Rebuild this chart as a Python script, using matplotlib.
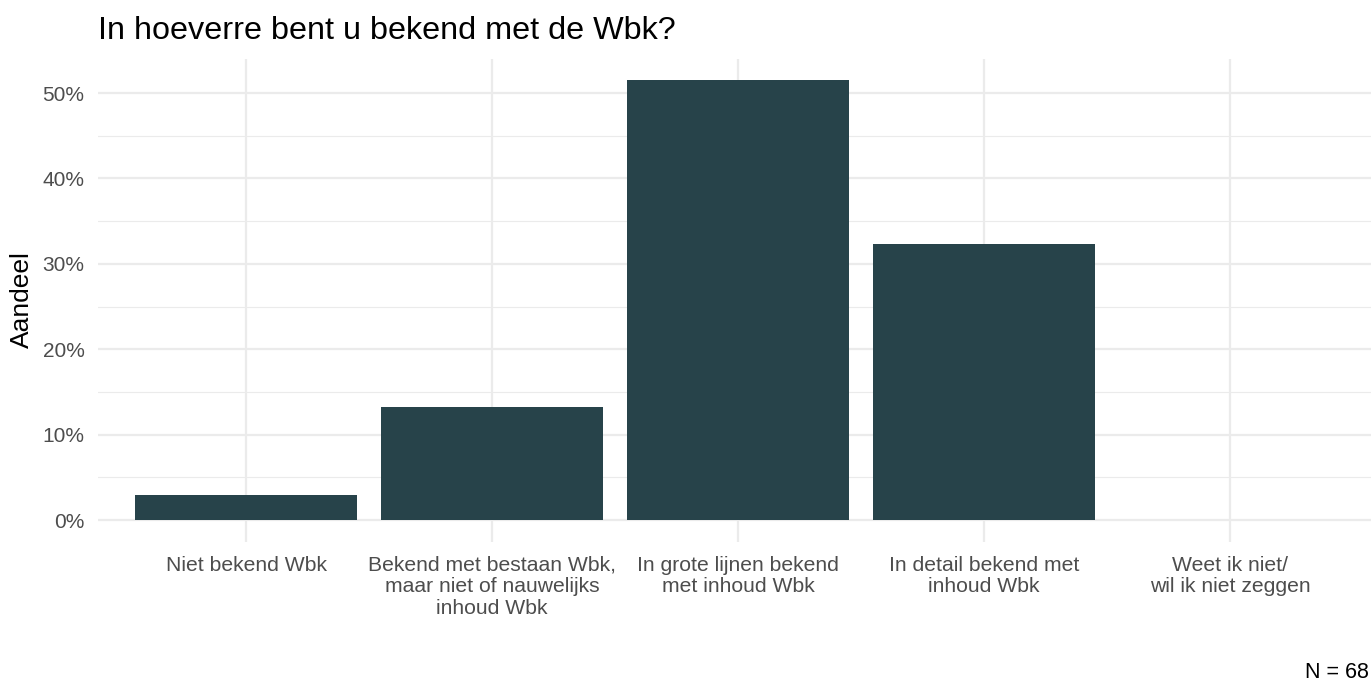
import matplotlib
matplotlib.use("Agg")
import matplotlib.pyplot as plt
from matplotlib.ticker import FixedLocator, PercentFormatter

plt.rcParams['font.family'] = ['Liberation Sans', 'DejaVu Sans']

categories = [
    "Niet bekend Wbk",
    "Bekend met bestaan Wbk,\nmaar niet of nauwelijks\ninhoud Wbk",
    "In grote lijnen bekend\nmet inhoud Wbk",
    "In detail bekend met\ninhoud Wbk",
    "Weet ik niet/\nwil ik niet zeggen",
]
counts = [2, 9, 35, 22, 0]
n_total = 68
shares = [c / n_total for c in counts]

title = "In hoeverre bent u bekend met de Wbk?"
ylabel = "Aandeel"
caption = f"N = {n_total}"
major_ticks = [0, 0.1, 0.2, 0.3, 0.4, 0.5]
minor_ticks = [0.05, 0.15, 0.25, 0.35, 0.45]

W, H = 1371, 681
fig = plt.figure(figsize=(W / 100, H / 100), dpi=100)
ax_left, ax_right = 98.4, 1377.6
ax_top, ax_bottom = 58.5, 542.0
ax = fig.add_axes([ax_left / W, 1 - ax_bottom / H,
                   (ax_right - ax_left) / W, (ax_bottom - ax_top) / H])

x = list(range(1, len(categories) + 1))
ax.set_axisbelow(True)
grid_col = "#EBEBEB"
for t in major_ticks:
    ax.axhline(t, color=grid_col, lw=1.6, zorder=0)
for t in minor_ticks:
    ax.axhline(t, color=grid_col, lw=0.8, zorder=0)
for xi in x:
    ax.axvline(xi, color=grid_col, lw=1.6, zorder=0)

ax.bar(x, shares, width=0.9, color="#27434A", zorder=2)

ax.set_xlim(0.4, 5.6)
top = max(shares)
ax.set_ylim(-0.05 * top, top * 1.05)
ax.yaxis.set_major_locator(FixedLocator(major_ticks))
ax.yaxis.set_major_formatter(PercentFormatter(1.0, decimals=0))
ax.set_xticks(x)
ax.set_xticklabels(categories, fontsize=15.2, color="#4D4D4D", linespacing=1.17)
ax.tick_params(axis='y', labelsize=15, labelcolor="#4D4D4D", length=0, pad=10)
ax.tick_params(axis='x', length=0, pad=10)
for s in ax.spines.values():
    s.set_visible(False)

fig.text(22 / W, 1 - 300 / H, ylabel, fontsize=19, color="black",
         rotation=90, va="center", ha="center")
fig.text(98 / W, 1 - 31 / H, title, fontsize=23.3, color="black", va="center", ha="left")
fig.text(1369 / W, 1 - 672 / H, caption, fontsize=15.5, color="black", va="center", ha="right")

fig.savefig("out.png", dpi=100)
